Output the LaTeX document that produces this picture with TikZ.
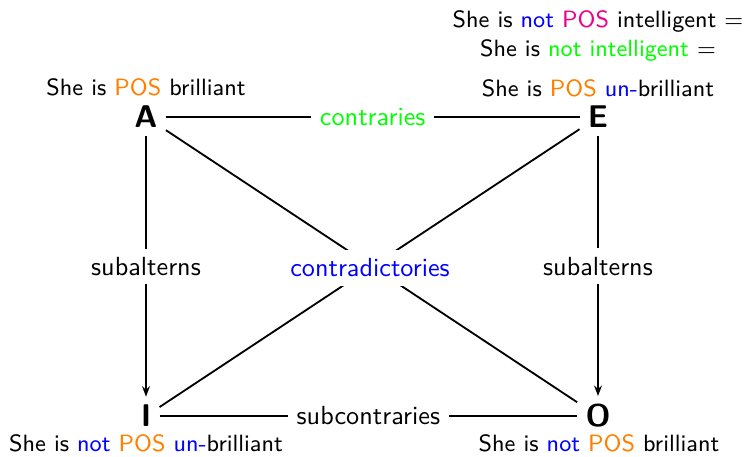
\documentclass[tikz,border=0pt]{standalone}
\usetikzlibrary{arrows.meta}
\definecolor{posorange}{RGB}{255,128,0}
\definecolor{posmag}{RGB}{236,0,140}
\definecolor{notblue}{RGB}{0,0,255}
\definecolor{grn}{RGB}{0,255,0}
\begin{document}
\begin{tikzpicture}[x=0.3817pt,y=-0.3817pt, font=\sffamily,
  corner/.style={font=\sffamily\large\bfseries, inner sep=3pt},
  lab/.style={font=\sffamily\small, inner sep=1pt, align=center},
  edge/.style={line width=0.7pt},
  arr/.style={-{Stealth[length=4pt,width=3pt]}},
  elab/.style={fill=white}]
\useasboundingbox (0,0) rectangle (749,457);
\node[corner] (A) at (146,117) {A};
\node[corner] (E) at (598,117) {E};
\node[corner] (I) at (146,416) {I};
\node[corner] (O) at (598,416) {O};
\draw[edge] (A) -- node[elab] (lc) {\textcolor{grn}{contraries}} (E);
\draw[edge] (I) -- node[elab] (lsc) {subcontraries} (O);
\draw[edge,arr] (A) -- node[elab] (ls1) {subalterns} (I);
\draw[edge,arr] (E) -- node[elab] (ls2) {subalterns} (O);
\draw[edge] (A) -- (O);
\draw[edge] (E) -- (I);
\node[elab, text=notblue] (cd) at (370,268) {contradictories};
\node[lab] (Al) at (146,87) {She is \textcolor{posorange}{POS} brilliant};
\node[lab] (El) at (598,54) {She is \textcolor{notblue}{not} \textcolor{posmag}{POS} intelligent =\\
  She is \textcolor{grn}{not intelligent} =\\[4.5pt]
  She is \textcolor{posorange}{POS} \textcolor{notblue}{un-}brilliant};
\node[lab] (Il) at (146,443) {She is \textcolor{notblue}{not} \textcolor{posorange}{POS} \textcolor{notblue}{un-}brilliant};
\node[lab] (Ol) at (599,443) {She is \textcolor{notblue}{not} \textcolor{posorange}{POS} brilliant};
\end{tikzpicture}
\end{document}
